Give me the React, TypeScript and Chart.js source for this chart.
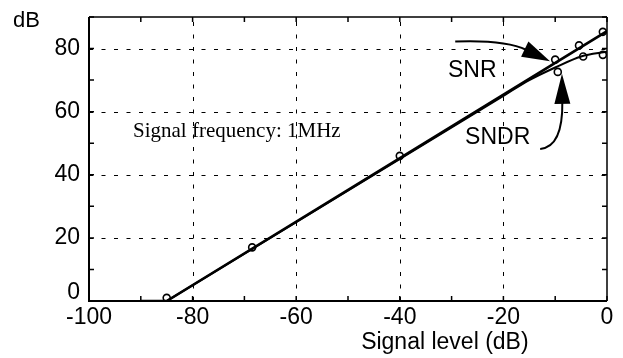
import React, { useEffect, useRef } from 'react';
import { Chart, registerables } from 'chart.js';

Chart.register(...registerables);

// ---------- data ----------
const xTicks = [-100, -90, -80, -70, -60, -50, -40, -30, -20, -10, 0];
const xTickLabels = ['-100', '', '-80', '', '-60', '', '-40', '', '-20', '', '0'];
const yTicks = [0, 10, 20, 30, 40, 50, 60, 70, 80, 90];
const yTickLabels: (string | string[])[] = [['0', ''], '', '20', '', '40', '', '60', '', '80', ''];
const xGridValues = [-80, -60, -40, -20];
const yGridValues = [20, 40, 60, 80];

// fitted curves
const snrFitX = [-90, -85, 0];
const snrFitY = [0, 0, 85.5];
const sndrFitX = [-85, -20, -15, -10, -5, 0];
const sndrFitY = [0, 65, 70, 74, 77.5, 79];

// measured points
const snrMeasX = [-85, -68.5, -40, -10, -5.4, -0.8];
const snrMeasY = [1, 17, 46, 76.5, 81, 85.3];
const sndrMeasX = [-9.5, -4.6, -0.8];
const sndrMeasY = [72.6, 77.5, 78];

// annotations (data coordinates)
const noteText = 'Signal frequency: 1MHz';
const notePos = [-91.5, 51.9];
const snrLabel = 'SNR';
const snrLabelPos = [-30.7, 71];
const sndrLabel = 'SNDR';
const sndrLabelPos = [-27.4, 49.7];
const snrArrow = { from: [-29.3, 82.2], via: [-19.7, 82.8], to: [-11, 76] };
const sndrArrow = { from: [-12.9, 48.2], via: [-8.5, 48.8], to: [-8.7, 72] };
const yUnitText = 'dB';
const xTitleText = 'Signal level (dB)';
const xTitleAt = -31.3;

const SANS = "'Liberation Sans', Arial, Helvetica, sans-serif";
const SERIF = "'Liberation Serif', 'Times New Roman', serif";

const zip = (xs: number[], ys: number[]) => xs.map((x, i) => ({ x, y: ys[i] }));

function drawArrow(ctx: CanvasRenderingContext2D, p0: any, c: any, tip: any, headLen: number, headW: number) {
  const dx = tip.x - c.x, dy = tip.y - c.y;
  const L = Math.hypot(dx, dy);
  const ux = dx / L, uy = dy / L;
  const base = { x: tip.x - ux * headLen, y: tip.y - uy * headLen };
  ctx.beginPath();
  ctx.moveTo(p0.x, p0.y);
  ctx.quadraticCurveTo(c.x, c.y, base.x + ux * 2, base.y + uy * 2);
  ctx.stroke();
  const nx = -uy, ny = ux;
  ctx.beginPath();
  ctx.moveTo(tip.x, tip.y);
  ctx.lineTo(base.x + (nx * headW) / 2, base.y + (ny * headW) / 2);
  ctx.lineTo(base.x - (nx * headW) / 2, base.y - (ny * headW) / 2);
  ctx.closePath();
  ctx.fill();
}

const framePlugin = {
  id: 'frame',
  beforeDatasetsDraw(chart: any) {
    const { ctx, chartArea: a, scales } = chart;
    const x = scales.x, y = scales.y;
    ctx.save();
    ctx.strokeStyle = '#000';
    ctx.lineWidth = 1;
    ctx.setLineDash([4, 8.5]);
    for (const v of xGridValues) {
      const px = Math.round(x.getPixelForValue(v)) + 0.5;
      ctx.beginPath(); ctx.moveTo(px, a.bottom); ctx.lineTo(px, a.top); ctx.stroke();
    }
    for (const v of yGridValues) {
      const py = Math.round(y.getPixelForValue(v)) + 0.5;
      ctx.beginPath(); ctx.moveTo(a.left, py); ctx.lineTo(a.right, py); ctx.stroke();
    }
    ctx.setLineDash([]);
    ctx.lineWidth = 1.5;
    const tl = 5;
    for (const v of xTicks) {
      const px = x.getPixelForValue(v);
      ctx.beginPath();
      ctx.moveTo(px, a.bottom); ctx.lineTo(px, a.bottom - tl);
      ctx.moveTo(px, a.top); ctx.lineTo(px, a.top + tl);
      ctx.stroke();
    }
    for (const v of yTicks) {
      const py = y.getPixelForValue(v);
      ctx.beginPath();
      ctx.moveTo(a.left, py); ctx.lineTo(a.left + tl, py);
      ctx.moveTo(a.right, py); ctx.lineTo(a.right - tl, py);
      ctx.stroke();
    }
    // frame
    ctx.lineWidth = 1.5;
    ctx.beginPath();
    ctx.moveTo(a.left, a.top); ctx.lineTo(a.right, a.top);
    ctx.moveTo(a.right, a.top); ctx.lineTo(a.right, a.bottom);
    ctx.stroke();
    ctx.lineWidth = 2;
    ctx.beginPath();
    ctx.moveTo(a.left, a.top); ctx.lineTo(a.left, a.bottom); ctx.lineTo(a.right, a.bottom);
    ctx.stroke();
    ctx.restore();
  },
  afterDatasetsDraw(chart: any) {
    const { ctx, chartArea: a, scales } = chart;
    const x = scales.x, y = scales.y;
    const P = (p: number[]) => ({ x: x.getPixelForValue(p[0]), y: y.getPixelForValue(p[1]) });
    ctx.save();
    ctx.fillStyle = '#000';
    ctx.strokeStyle = '#000';
    ctx.textBaseline = 'alphabetic';
    ctx.textAlign = 'left';
    ctx.font = `21px ${SERIF}`;
    const n = P(notePos);
    ctx.fillText(noteText, n.x, n.y);
    ctx.font = `23px ${SANS}`;
    const s1 = P(snrLabelPos);
    ctx.fillText(snrLabel, s1.x, s1.y);
    const s2 = P(sndrLabelPos);
    ctx.fillText(sndrLabel, s2.x, s2.y);
    ctx.lineWidth = 2;
    drawArrow(ctx, P(snrArrow.from), P(snrArrow.via), P(snrArrow.to), 28, 17);
    drawArrow(ctx, P(sndrArrow.from), P(sndrArrow.via), P(sndrArrow.to), 30, 16);
    // axis texts
    ctx.font = `22px ${SANS}`;
    ctx.fillText(yUnitText, 13, 27);
    ctx.textAlign = 'center';
    ctx.font = `23px ${SANS}`;
    ctx.fillText(xTitleText, x.getPixelForValue(xTitleAt), a.bottom + 48);
    ctx.restore();
  },
};

export default function App() {
  const ref = useRef<HTMLCanvasElement>(null);
  useEffect(() => {
    if (!ref.current) return;
    const lineStyle = {
      showLine: true,
      borderColor: '#000',
      borderWidth: 2.6,
      pointRadius: 0,
      fill: false,
    };
    const markStyle = {
      showLine: false,
      pointRadius: 3.5,
      pointBorderWidth: 1.6,
      pointBorderColor: '#000',
      pointBackgroundColor: '#fff',
      borderColor: '#000',
      backgroundColor: '#fff',
    };
    const chart = new Chart(ref.current, {
      type: 'scatter',
      data: {
        datasets: [
          { label: 'SNR fit', data: zip(snrFitX, snrFitY), ...lineStyle, tension: 0 } as any,
          { label: 'SNDR fit', data: zip(sndrFitX, sndrFitY), ...lineStyle, borderWidth: 2, cubicInterpolationMode: 'monotone' } as any,
          { label: 'SNR', data: zip(snrMeasX, snrMeasY), ...markStyle } as any,
          { label: 'SNDR', data: zip(sndrMeasX, sndrMeasY), ...markStyle } as any,
        ],
      },
      options: {
        animation: false,
        responsive: false,
        devicePixelRatio: 1,
        layout: { padding: { top: 9, right: 16, left: 0, bottom: 0 } },
        plugins: { legend: { display: false }, tooltip: { enabled: false } },
        scales: {
          x: {
            type: 'linear',
            min: -100,
            max: 0,
            grid: { display: false, drawTicks: false, tickLength: 0 },
            border: { display: false },
            afterBuildTicks: (s: any) => { s.ticks = xTicks.map((v) => ({ value: v })); },
            afterFit: (s: any) => { s.height = 57; },
            ticks: {
              autoSkip: false,
              maxRotation: 0,
              padding: 3,
              color: '#000',
              font: { family: SANS, size: 23 },
              callback: (_v: any, i: number) => xTickLabels[i],
            },
          },
          y: {
            type: 'linear',
            min: 0,
            max: 90,
            grid: { display: false, drawTicks: false, tickLength: 0 },
            border: { display: false },
            afterBuildTicks: (s: any) => { s.ticks = yTicks.map((v) => ({ value: v })); },
            afterFit: (s: any) => { s.width = 89; },
            ticks: {
              autoSkip: false,
              padding: 9,
              color: '#000',
              font: { family: SANS, size: 23, lineHeight: '16px' },
              callback: (_v: any, i: number) => yTickLabels[i],
            },
          },
        },
      } as any,
      plugins: [framePlugin],
    });
    return () => chart.destroy();
  }, []);
  return (
    <div style={{ position: 'fixed', left: 0, top: 0, width: 623, height: 358, background: '#fff' }}>
      <canvas ref={ref} width={623} height={358} />
    </div>
  );
}
